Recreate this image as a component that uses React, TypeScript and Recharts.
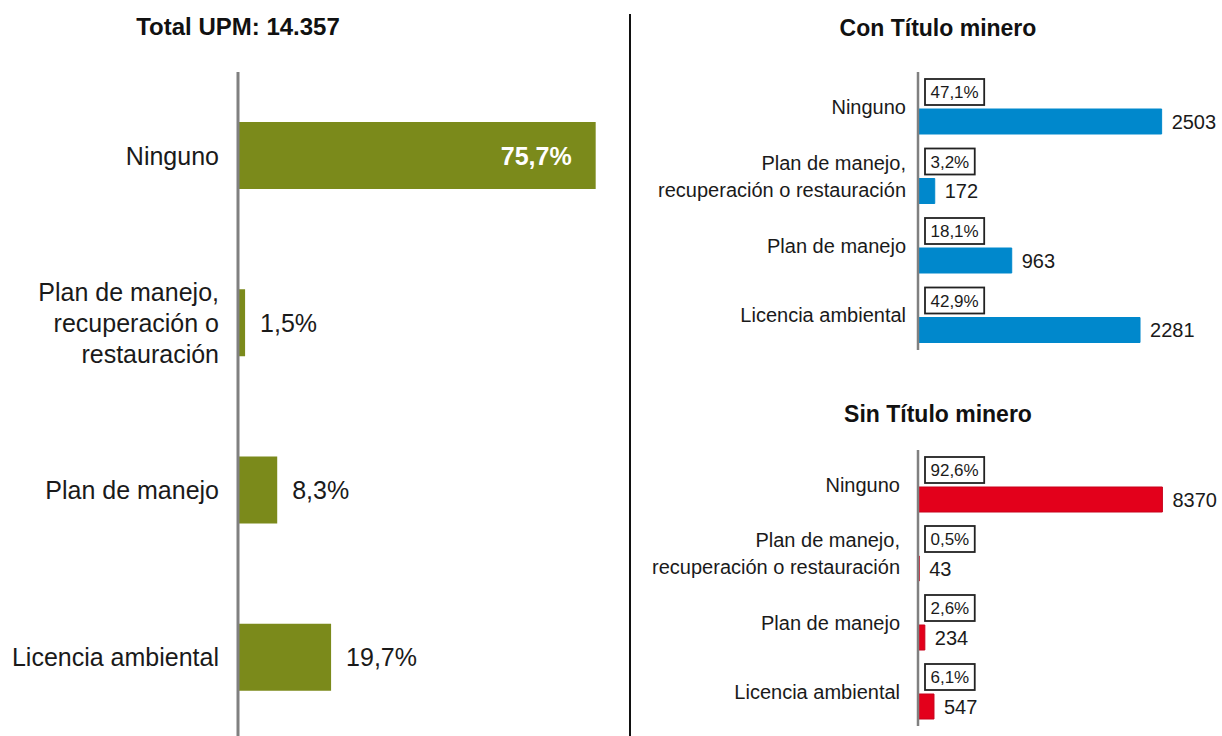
import React from 'react';
import { BarChart, Bar, XAxis, YAxis, LabelList } from 'recharts';

const leftCategories = [
  'Ninguno',
  'Plan de manejo,\nrecuperación o\nrestauración',
  'Plan de manejo',
  'Licencia ambiental',
];
const totalShare = [75.7, 1.5, 8.3, 19.7];

const rightCategories = [
  'Ninguno',
  'Plan de manejo,\nrecuperación o restauración',
  'Plan de manejo',
  'Licencia ambiental',
];
const conTituloCount = [2503, 172, 963, 2281];
const conTituloShare = [47.1, 3.2, 18.1, 42.9];
const sinTituloCount = [8370, 43, 234, 547];
const sinTituloShare = [92.6, 0.5, 2.6, 6.1];

const FONT = '"Liberation Sans", Arial, Helvetica, sans-serif';
const OLIVE = '#7b8a1b';
const BLUE = '#0088cc';
const RED = '#e3001b';

const totalData = leftCategories.map((name, i) => ({ name, share: totalShare[i] }));
const conData = rightCategories.map((name, i) => ({ name, share: conTituloShare[i], count: conTituloCount[i] }));
const sinData = rightCategories.map((name, i) => ({ name, share: sinTituloShare[i], count: sinTituloCount[i] }));

const fmtPct = (v: number) => v.toFixed(1).replace('.', ',') + '%';

const charW: Record<string, number> = { ',': 0.278, '%': 0.889 };
const textWidth = (s: string, size: number) =>
  s.split('').reduce((w, c) => w + (charW[c] ?? 0.556), 0) * size;

const box = (p: any) => {
  const vb = p.viewBox || p;
  return { x: Number(vb.x), y: Number(vb.y), width: Number(vb.width), height: Number(vb.height) };
};

const CategoryTick = (props: any) => {
  const { x, y, payload, fontSize, lineHeight } = props;
  const lines = String(payload.value).split('\n');
  const start = y - ((lines.length - 1) * lineHeight) / 2;
  return (
    <text x={x} y={start} textAnchor="end" fontSize={fontSize} fill="#1a1a1a" fontFamily={FONT}>
      {lines.map((l, i) => (
        <tspan key={i} x={x} y={start + i * lineHeight} dy="0.36em">
          {l}
        </tspan>
      ))}
    </text>
  );
};

const TotalLabel = (props: any) => {
  const { x, y, width, height } = box(props);
  const text = fmtPct(Number(props.value));
  const cy = y + height / 2;
  if (width > 100) {
    return (
      <text x={x + width - 24} y={cy} dy="0.36em" textAnchor="end" fontSize={25} fontWeight="bold" fill="#fff" fontFamily={FONT}>
        {text}
      </text>
    );
  }
  return (
    <text x={x + width + 15} y={cy} dy="0.36em" textAnchor="start" fontSize={25} fill="#1a1a1a" fontFamily={FONT}>
      {text}
    </text>
  );
};

const ShareBox = (props: any) => {
  const { x, y, height } = box(props);
  const text = fmtPct(Number(props.value));
  const w = textWidth(text, 17) + 11;
  return (
    <g>
      <rect x={x + 7} y={y} width={w} height={height} fill="#fff" stroke="#222" strokeWidth={1.8} />
      <text x={x + 7 + w / 2} y={y + height / 2} dy="0.36em" textAnchor="middle" fontSize={17} fill="#1a1a1a" fontFamily={FONT}>
        {text}
      </text>
    </g>
  );
};

const CountLabel = (props: any) => {
  const { x, y, width, height } = box(props);
  return (
    <text x={x + width + 10} y={y + height / 2} dy="0.36em" textAnchor="start" fontSize={20} fill="#1a1a1a" fontFamily={FONT}>
      {props.value}
    </text>
  );
};

const titleStyle = (cx: number, cy: number, size: number): React.CSSProperties => ({
  position: 'absolute',
  left: cx - 200,
  width: 400,
  top: cy - 14,
  height: 28,
  lineHeight: '28px',
  textAlign: 'center',
  fontWeight: 'bold',
  fontSize: size,
  color: '#111',
  fontFamily: FONT,
});

const SubChart = ({ data, max, color, stroke, top, height, marginTop, tickMargin }: any) => (
  <div style={{ position: 'absolute', left: 640, top }}>
    <BarChart
      width={582}
      height={height}
      data={data}
      layout="vertical"
      margin={{ top: marginTop, right: 12, bottom: 10, left: 0 }}
      barGap={4}
    >
      <XAxis xAxisId="share" type="number" domain={[0, 100]} hide />
      <XAxis xAxisId="count" type="number" domain={[0, max]} hide />
      <YAxis
        type="category"
        dataKey="name"
        width={278}
        tickLine={false}
        tickSize={0}
        tickMargin={tickMargin}
        axisLine={{ stroke: '#808080', strokeWidth: 2.5 }}
        tick={(p: any) => <CategoryTick {...p} fontSize={20} lineHeight={27} />}
        interval={0}
      />
      <Bar xAxisId="share" dataKey="share" barSize={26} fill="transparent" isAnimationActive={false}>
        <LabelList dataKey="share" content={ShareBox} />
      </Bar>
      <Bar xAxisId="count" dataKey="count" barSize={25} fill={color} stroke={stroke} strokeWidth={1} isAnimationActive={false}>
        <LabelList dataKey="count" content={CountLabel} />
      </Bar>
    </BarChart>
  </div>
);

export default function App() {
  return (
    <div
      style={{
        position: 'absolute',
        left: 0,
        top: 0,
        width: 1222,
        height: 736,
        overflow: 'hidden',
        background: '#fff',
        fontFamily: FONT,
      }}
    >
      <div style={titleStyle(238, 27, 24)}>Total UPM: 14.357</div>
      <div style={{ position: 'absolute', left: 0, top: 0 }}>
        <BarChart
          width={624}
          height={750}
          data={totalData}
          layout="vertical"
          margin={{ top: 72, right: 8, bottom: 9, left: 0 }}
          barSize={67}
        >
          <XAxis type="number" domain={[0, 80]} hide />
          <YAxis
            type="category"
            dataKey="name"
            width={238}
            tickLine={false}
            tickSize={0}
            tickMargin={19}
            axisLine={{ stroke: '#808080', strokeWidth: 3 }}
            tick={(p: any) => <CategoryTick {...p} fontSize={25} lineHeight={31} />}
            interval={0}
          />
          <Bar dataKey="share" fill={OLIVE} isAnimationActive={false}>
            <LabelList dataKey="share" content={TotalLabel} />
          </Bar>
        </BarChart>
      </div>

      <div style={{ position: 'absolute', left: 629, top: 14, width: 2, height: 722, background: '#111' }} />

      <div style={titleStyle(938, 28, 23)}>Con Título minero</div>
      <SubChart data={conData} max={3000} color={BLUE} stroke={BLUE} top={0} height={360} marginTop={72} tickMargin={12} />

      <div style={titleStyle(938, 414, 23)}>Sin Título minero</div>
      <SubChart data={sinData} max={10000} color={RED} stroke="#c8001a" top={380} height={356} marginTop={70} tickMargin={18} />
    </div>
  );
}
